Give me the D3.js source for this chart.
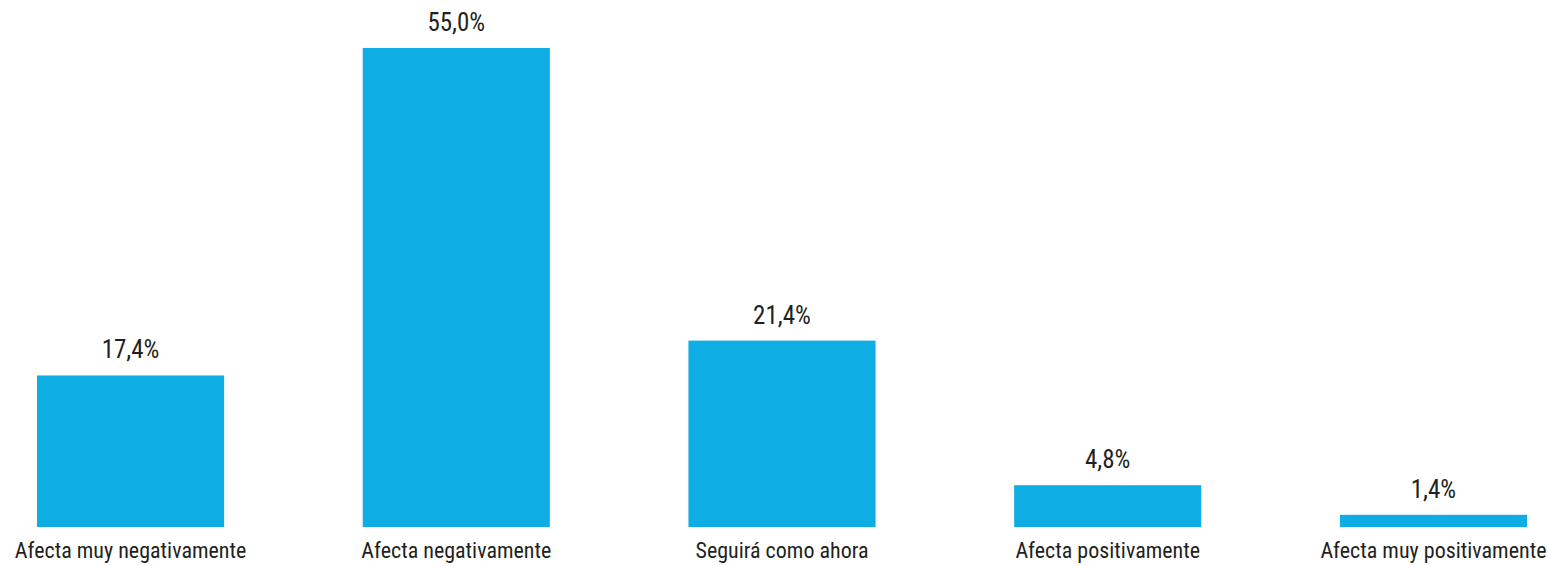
<!DOCTYPE html>
<html>
<head>
<meta charset="utf-8">
<script src="https://cdn.jsdelivr.net/npm/d3@7"></script>
<style>
  html, body { margin: 0; padding: 0; background: #ffffff; }
  svg { display: block; }
  text { font-family: "Liberation Sans Narrow", "Roboto Condensed", "DejaVu Sans Condensed", "Liberation Sans", sans-serif; fill: #231f20; }
</style>
</head>
<body>
<svg id="chart" width="1549" height="566"></svg>
<script>
const categories = ["Afecta muy negativamente", "Afecta negativamente", "Seguirá como ahora", "Afecta positivamente", "Afecta muy positivamente"];
const values = [17.4, 55.0, 21.4, 4.8, 1.4];
const valueLabels = ["17,4%", "55,0%", "21,4%", "4,8%", "1,4%"];

const svg = d3.select("#chart");
const x = d3.scaleBand().domain(categories).range([37, 1527]).paddingInner(0.4255).paddingOuter(0);
const y = d3.scaleLinear().domain([0, 55]).range([527, 48]);

svg.selectAll("rect.bar").data(values).join("rect")
  .attr("class", "bar")
  .attr("x", (d, i) => x(categories[i]))
  .attr("y", d => y(d))
  .attr("width", x.bandwidth())
  .attr("height", d => y(0) - y(d))
  .attr("fill", "#0eade3");

svg.selectAll("text.val").data(values).join("text")
  .attr("class", "val")
  .attr("x", (d, i) => x(categories[i]) + x.bandwidth() / 2)
  .attr("y", d => y(d) - 17)
  .attr("text-anchor", "middle")
  .attr("font-size", 25)
  .text((d, i) => valueLabels[i]);

const xAxis = d3.axisBottom(x).tickSize(0).tickPadding(0);
const g = svg.append("g").attr("transform", `translate(0, ${y(0)})`).call(xAxis);
g.select(".domain").remove();
g.selectAll(".tick text")
  .attr("dy", null)
  .attr("y", 31)
  .attr("font-size", 22)
  .attr("font-family", null)
  .attr("fill", "#231f20");
</script>
</body>
</html>
